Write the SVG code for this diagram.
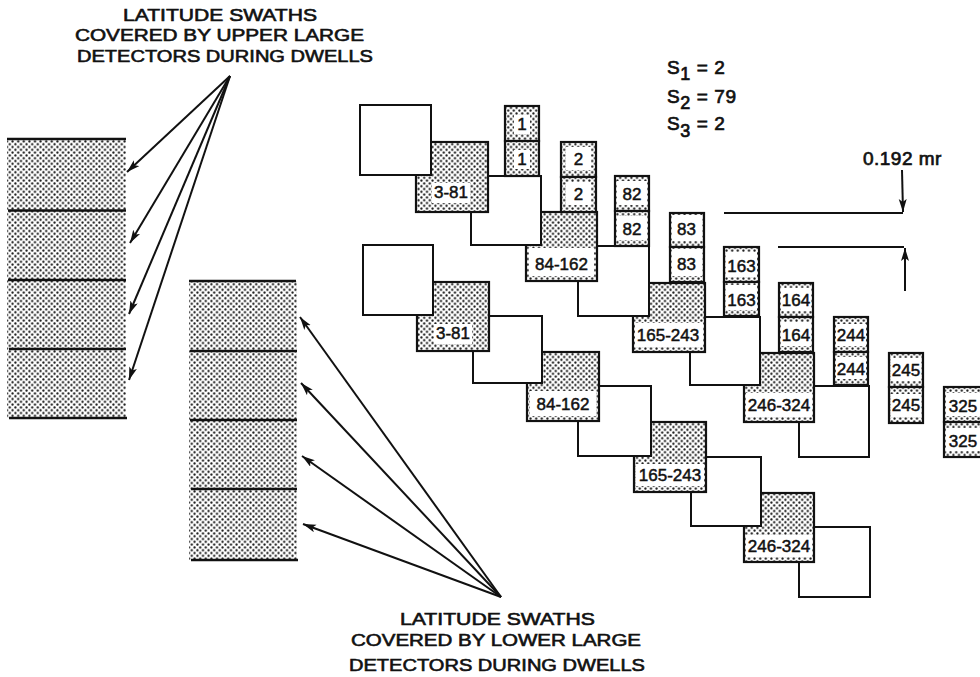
<svg xmlns="http://www.w3.org/2000/svg" width="980" height="677" viewBox="0 0 980 677">
<style>
.w{fill:#fff;stroke:#111;stroke-width:2}
.s{fill:url(#dots);stroke:#111;stroke-width:2.200}
.b{fill:#fff;stroke:none}
.n{font:17px "Liberation Sans",Arial,sans-serif;fill:#111;stroke:#111;stroke-width:.5;text-anchor:middle}
.t{font:16.500px "Liberation Sans",Arial,sans-serif;fill:#111;stroke:#111;stroke-width:.6}
.k{font:19px "Liberation Sans",Arial,sans-serif;fill:#111;stroke:#111;stroke-width:.7;letter-spacing:.6px}
.sub{font-size:18px}
.a{fill:none;stroke:#111;stroke-width:2;marker-end:url(#ah)}
.l{fill:none;stroke:#111;stroke-width:2.200}
.d{stroke:#111;stroke-width:2.400;fill:none}
.f{fill:url(#dots);stroke:none}
</style>
<defs>
<pattern id="dots" width="5.6" height="5.6" patternUnits="userSpaceOnUse">
<rect width="5.6" height="5.6" fill="#fff"/>
<circle cx="1.4" cy="1.4" r="1.1" fill="#111"/>
<circle cx="4.2" cy="4.2" r="1.1" fill="#111"/>
</pattern>
<marker id="ah" markerUnits="userSpaceOnUse" markerWidth="14" markerHeight="9" refX="13" refY="4" orient="auto">
<path d="M0 0L13 4L0 8L3 4Z" fill="#111"/>
</marker>
</defs>
<rect width="980" height="677" fill="#fff"/>

<g id="swath-upper">
<rect class="f" x="7" y="139" width="119" height="279"/>
<path class="d" d="M7 139H126M8 210.500H126M8 280H126M9 349H126M9 418H127"/>
</g>
<g id="swath-lower">
<rect class="f" x="189" y="281" width="108" height="279"/>
<path class="d" d="M189 281H296M190 351H297M190 420H297M191 489H297M191 560H298"/>
</g>

<g id="connectors">
<path class="a" d="M230 76L127 172"/>
<path class="a" d="M230 76L130 243"/>
<path class="a" d="M230 76L129 314"/>
<path class="a" d="M230 76L129 380"/>
<path class="a" d="M501 597L300 317"/>
<path class="a" d="M501 597L301 383"/>
<path class="a" d="M501 597L302 456"/>
<path class="a" d="M501 597L303 524"/>
<path class="l" d="M724 213H903"/>
<path class="l" d="M778 247H904"/>
<path class="a" d="M902 170L903 212"/>
<path class="a" d="M905 291V248"/>
</g>

<g id="upper-white-5"><rect class="w" x="799" y="386" width="70" height="71"/></g>
<g id="upper-shaded-4"><rect class="s" x="744" y="353" width="70" height="69"/><rect class="b" x="746" y="393" width="66" height="24"/><text class="n" x="779" y="411">246-324</text></g>
<g id="upper-white-4"><rect class="w" x="690" y="317" width="70" height="68"/></g>
<g id="upper-shaded-3"><rect class="s" x="633" y="283" width="72" height="69"/><rect class="b" x="635" y="323" width="68" height="24"/><text class="n" x="668" y="341">165-243</text></g>
<g id="upper-white-3"><rect class="w" x="578" y="246" width="71" height="70"/></g>
<g id="upper-shaded-2"><rect class="s" x="526" y="212" width="71" height="69"/><rect class="b" x="529" y="248" width="65" height="28"/><text class="n" x="561.500" y="270">84-162</text></g>
<g id="upper-white-2"><rect class="w" x="471" y="176" width="70" height="69"/></g>
<g id="upper-shaded-1"><rect class="s" x="416" y="142" width="72" height="70"/><rect class="b" x="432" y="183" width="38" height="20"/><text class="n" x="451" y="198">3-81</text></g>
<g id="upper-white-1"><rect class="w" x="360" y="105" width="71" height="70"/></g>

<g id="lower-white-5"><rect class="w" x="799" y="527" width="71" height="70"/></g>
<g id="lower-shaded-4"><rect class="s" x="744" y="493" width="70" height="69"/><rect class="b" x="746" y="535" width="66" height="22"/><text class="n" x="779" y="552">246-324</text></g>
<g id="lower-white-4"><rect class="w" x="691" y="457" width="70" height="69"/></g>
<g id="lower-shaded-3"><rect class="s" x="634" y="422" width="72" height="70"/><rect class="b" x="636" y="464" width="68" height="22"/><text class="n" x="670" y="481">165-243</text></g>
<g id="lower-white-3"><rect class="w" x="578" y="386" width="73" height="70"/></g>
<g id="lower-shaded-2"><rect class="s" x="527" y="352" width="72" height="69"/><rect class="b" x="530" y="391" width="66" height="25"/><text class="n" x="563" y="410">84-162</text></g>
<g id="lower-white-2"><rect class="w" x="473" y="316" width="69" height="67"/></g>
<g id="lower-shaded-1"><rect class="s" x="417" y="282" width="72" height="69"/><rect class="b" x="434" y="324" width="38" height="20"/><text class="n" x="453" y="339">3-81</text></g>
<g id="lower-white-1"><rect class="w" x="363" y="245" width="70" height="70"/></g>

<g id="cell-1"><rect class="s" x="505" y="106" width="34" height="35"/><rect class="s" x="505" y="141" width="34" height="35"/><rect class="b" x="514" y="115" width="16" height="19"/><rect class="b" x="514" y="150" width="16" height="19"/><text class="n" x="522" y="130">1</text><text class="n" x="522" y="165">1</text></g>
<g id="cell-2"><rect class="s" x="561" y="142" width="35" height="35"/><rect class="s" x="561" y="177" width="35" height="35"/><rect class="b" x="566" y="147" width="25" height="23"/><rect class="b" x="566" y="182" width="25" height="23"/><text class="n" x="578.500" y="165">2</text><text class="n" x="578.500" y="200">2</text></g>
<g id="cell-82"><rect class="s" x="615" y="176" width="34" height="35"/><rect class="s" x="615" y="211" width="34" height="35"/><rect class="b" x="617" y="181" width="30" height="24"/><rect class="b" x="617" y="216" width="30" height="24"/><text class="n" x="632" y="200">82</text><text class="n" x="632" y="235">82</text></g>
<g id="cell-83"><rect class="s" x="670" y="213" width="34" height="34"/><rect class="s" x="670" y="247" width="34" height="35"/><rect class="b" x="672" y="215" width="30" height="26"/><rect class="b" x="672" y="249" width="30" height="27"/><text class="n" x="686.500" y="235">83</text><text class="n" x="686.500" y="270">83</text></g>
<g id="cell-163"><rect class="s" x="724" y="247" width="35" height="35"/><rect class="s" x="724" y="282" width="35" height="34"/><rect class="b" x="726" y="252" width="31" height="25"/><rect class="b" x="726" y="285" width="31" height="25"/><text class="n" x="741.500" y="272">163</text><text class="n" x="741.500" y="306">163</text></g>
<g id="cell-164"><rect class="s" x="779" y="283" width="34" height="34"/><rect class="s" x="779" y="317" width="34" height="35"/><rect class="b" x="781" y="288" width="30" height="23"/><rect class="b" x="781" y="322" width="30" height="24"/><text class="n" x="796" y="306">164</text><text class="n" x="796" y="341">164</text></g>
<g id="cell-244"><rect class="s" x="834" y="317" width="34" height="35"/><rect class="s" x="834" y="352" width="34" height="33"/><rect class="b" x="836" y="324" width="30" height="22"/><rect class="b" x="836" y="357" width="30" height="22"/><text class="n" x="851" y="341">244</text><text class="n" x="851" y="375">244</text></g>
<g id="cell-245"><rect class="s" x="889" y="353" width="34" height="34"/><rect class="s" x="889" y="387" width="34" height="36"/><rect class="b" x="891" y="358" width="30" height="23"/><rect class="b" x="891" y="394" width="30" height="23"/><text class="n" x="906" y="376">245</text><text class="n" x="906" y="411">245</text></g>
<g id="cell-325"><rect class="s" x="944" y="387" width="37" height="35"/><rect class="s" x="944" y="422" width="37" height="35"/><rect class="b" x="946" y="393" width="34" height="23"/><rect class="b" x="946" y="428" width="34" height="23"/><text class="n" x="963" y="412">325</text><text class="n" x="963" y="447">325</text></g>

<g id="label-upper">
<text class="t" x="123" y="21" textLength="194" lengthAdjust="spacingAndGlyphs">LATITUDE SWATHS</text>
<text class="t" x="75" y="41" textLength="289" lengthAdjust="spacingAndGlyphs">COVERED BY UPPER LARGE</text>
<text class="t" x="77" y="62" textLength="296" lengthAdjust="spacingAndGlyphs">DETECTORS DURING DWELLS</text>
</g>
<g id="label-lower">
<text class="t" x="400" y="625" textLength="195" lengthAdjust="spacingAndGlyphs">LATITUDE SWATHS</text>
<text class="t" x="351" y="646" textLength="290" lengthAdjust="spacingAndGlyphs">COVERED BY LOWER LARGE</text>
<text class="t" x="349" y="671" textLength="296" lengthAdjust="spacingAndGlyphs">DETECTORS DURING DWELLS</text>
</g>
<g id="params">
<text class="k" x="667" y="74">S<tspan class="sub" dy="6">1</tspan><tspan dy="-6"> = 2</tspan></text>
<text class="k" x="667" y="103">S<tspan class="sub" dy="6">2</tspan><tspan dy="-6"> = 79</tspan></text>
<text class="k" x="667" y="130">S<tspan class="sub" dy="7">3</tspan><tspan dy="-7"> = 2</tspan></text>
<text class="k" x="863" y="165" textLength="79">0.192 mr</text>
</g>
</svg>
